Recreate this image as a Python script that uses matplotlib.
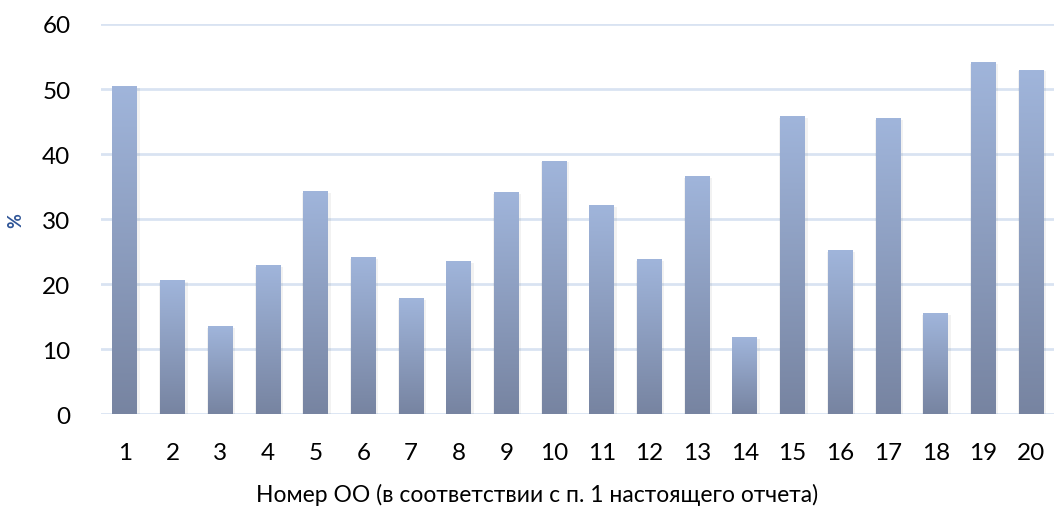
import matplotlib
matplotlib.use("Agg")
import matplotlib.pyplot as plt
import numpy as np
from matplotlib.colors import LinearSegmentedColormap

plt.rcParams['font.family'] = ['Lato', 'DejaVu Sans']

categories = [str(i) for i in range(1, 21)]
values = [50.3, 20.5, 13.5, 22.8, 34.2, 24.0, 17.7, 23.5, 34.1, 38.9,
          32.0, 23.7, 36.5, 11.8, 45.7, 25.1, 45.4, 15.4, 54.0, 52.9]
yticks = [0, 10, 20, 30, 40, 50, 60]

fig = plt.figure(figsize=(10.54, 5.10), dpi=100)
ax = fig.add_axes([0.0958, 0.186, 0.905, 0.765])

cmap = LinearSegmentedColormap.from_list("bar", ["#7784A1", "#A0B5DB"])
grad = np.linspace(0, 1, 256).reshape(-1, 1)
w = 0.52
x = np.arange(len(values))

for xi, v in zip(x, values):
    # soft shadow
    ax.bar(xi + 0.02, v + 0.3, width=w + 0.07, bottom=-0.5, color="#000000", alpha=0.05, zorder=2)
    ax.imshow(grad, extent=[xi - w / 2, xi + w / 2, 0, v], origin="lower",
              cmap=cmap, aspect="auto", zorder=3)

ax.set_xlim(-0.5, len(values) - 0.5)
ax.set_ylim(0, 60)
ax.set_yticks(yticks)
ax.set_xticks(x)
ax.set_xticklabels(categories)
ax.yaxis.grid(True, color="#D9E3F2", linewidth=2)
ax.set_axisbelow(True)
for s in ax.spines.values():
    s.set_visible(False)
ax.tick_params(length=0, labelsize=17.5)
ax.tick_params(axis='x', pad=20)
ax.tick_params(axis='y', pad=22)
ax.set_xlabel("Номер ОО (в соответствии с п. 1 настоящего отчета)", fontsize=16.5)
ax.xaxis.set_label_coords(0.4575, -0.175)
ax.set_ylabel("%", fontsize=13, fontweight="bold", color="#2F5597")
ax.yaxis.set_label_coords(-0.08, 0.5)

fig.savefig("out.png", dpi=100)
